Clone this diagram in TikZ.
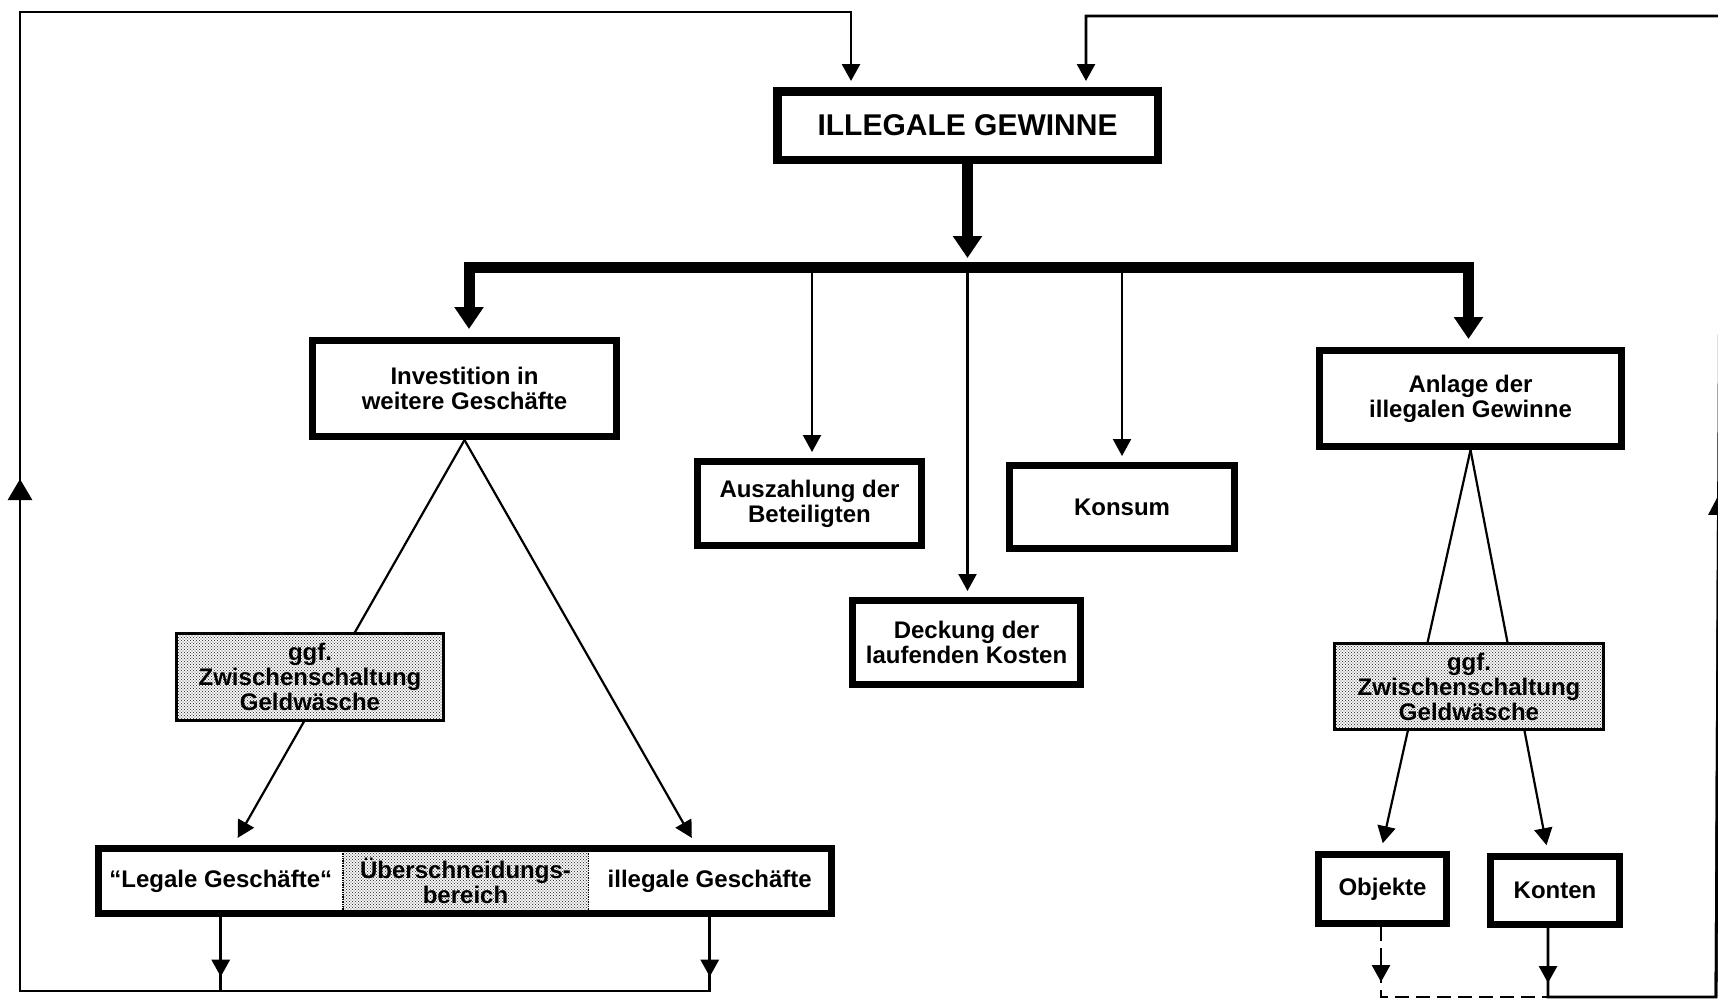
\documentclass[tikz,border=0pt]{standalone}
\usepackage{fontspec}
\setmainfont{Liberation Sans}
\usetikzlibrary{arrows.meta,patterns,calc}
\pgfdeclarelayer{bg}
\pgfsetlayers{bg,main}

% fine halftone stipple for the optional laundering step
\pgfdeclarepatternformonly{stipple}{\pgfpoint{-1pt}{-1pt}}{\pgfpoint{4pt}{4pt}}{\pgfpoint{3pt}{3pt}}{%
  \pgfpathcircle{\pgfpoint{0pt}{0pt}}{0.62pt}%
  \pgfpathcircle{\pgfpoint{1.5pt}{1.5pt}}{0.62pt}%
  \pgfusepath{fill}}

\newcommand\boxfont{\bfseries\fontsize{24}{25}\selectfont}
\newcommand\headfont{\bfseries\fontsize{30}{32}\selectfont}

\tikzset{
  >={Triangle[length=17pt,width=18pt]},
  box/.style={draw, line width=7pt, fill=white, inner sep=0pt, align=center, font=\boxfont},
  shadebox/.style={draw, line width=3pt, preaction={fill=white}, pattern=stipple,
    pattern color=black!75, inner sep=0pt, align=center, font=\boxfont},
  cell/.style={inner sep=0pt, minimum height=65pt, align=center, font=\boxfont},
  conn/.style={line width=2.2pt},
  loopl/.style={line width=2.8pt, line join=miter},
  heavy/.style={line width=11pt, line join=miter},
  bigarr/.style={-{Triangle[length=22pt,width=28pt]}},
}

\begin{document}
\begin{tikzpicture}[x=1pt,y=-1pt]
\useasboundingbox (0,0) rectangle (1718,1002);
\begin{pgfonlayer}{bg}
  \fill[white] (0,0) rectangle (1718,1002);
\end{pgfonlayer}

% boxes
\node[box, line width=8.5pt, minimum width=380.5pt, minimum height=68.5pt, font=\headfont]
  (title) at (967.5,125.5) {ILLEGALE GEWINNE};
\node[box, minimum width=304pt, minimum height=96pt] (invest) at (464.5,388.5)
  {Investition in\\weitere Geschäfte};
\node[box, minimum width=224pt, minimum height=84pt] (ausz) at (809.5,503.5)
  {Auszahlung der\\Beteiligten};
\node[box, minimum width=225pt, minimum height=83pt] (konsum) at (1122,507) {Konsum};
\node[box, minimum width=228pt, minimum height=84pt] (deckung) at (966.5,642.5)
  {Deckung der\\laufenden Kosten};
\node[box, minimum width=302pt, minimum height=96pt] (anlage) at (1470.5,398.5)
  {Anlage der\\illegalen Gewinne};
\node[shadebox, minimum width=267pt, minimum height=87pt] (ggfL) at (310,677)
  {ggf.\\Zwischenschaltung\\Geldwäsche};
\node[shadebox, minimum width=269pt, minimum height=86pt] (ggfR) at (1469,686.5)
  {ggf.\\Zwischenschaltung\\Geldwäsche};
\node[box, minimum width=128pt, minimum height=69pt] (objekte) at (1382.5,889) {Objekte};
\node[box, minimum width=129pt, minimum height=68pt] (konten) at (1555,890.5) {Konten};

% the three-part business box
\node[cell, minimum width=244.5pt] (legal) at (220.75,881) {“Legale Geschäfte“};
\node[cell, minimum width=245pt, preaction={fill=white}, pattern=stipple, pattern color=black!75]
  (over) at (465.5,881) {Überschneidungs-\\bereich};
\node[cell, minimum width=243.5pt] (illegal) at (709.75,881) {illegale Geschäfte};
\draw[line width=7pt] (legal.north west) rectangle (illegal.south east);
\draw[line width=1.4pt, densely dotted] (over.north west) -- (over.south west)
  (over.north east) -- (over.south east);

% junction points
\coordinate (hub)  at (967.5,258);
\coordinate (barL) at (469,267);
\coordinate (barR) at (1468.5,267);
\coordinate (dA)   at (812,267);
\coordinate (dD)   at (967.5,267);
\coordinate (dK)   at (1122,267);
\coordinate (lb)   at (20,991);
\coordinate (lt)   at (20,12);
\coordinate (la)   at (851,12);
\coordinate (lu)   at (20,479);
\coordinate (rb)   at (1716,997);
\coordinate (rt)   at (1721,16);
\coordinate (ra)   at (1086,16);
\coordinate (ru)   at (1718.5,495);
\coordinate (kx)   at (1548,997);
\coordinate (ox)   at (1381,997);

\begin{pgfonlayer}{bg}
  % main distribution of the profits
  \draw[heavy, bigarr] (title.south) -- (hub);
  \draw[heavy, {Triangle[length=22pt,width=28pt]}-{Triangle[length=22pt,width=28pt]},
        shorten <=8pt, shorten >=8pt]
    (barL |- invest.north) -- (barL) -- (barR) -- (barR |- anlage.north);
  \draw[conn, ->, shorten >=6pt] (dA) -- (dA |- ausz.north);
  \draw[conn, ->, shorten >=6pt] (dD) -- (dD |- deckung.north);
  \draw[conn, ->, shorten >=6pt] (dK) -- (dK |- konsum.north);

  % investment branch
  \draw[conn, ->, shorten >=12pt] (invest.south) -- ($(legal.north)+(11,0)$);
  \draw[conn, ->, shorten >=12pt] (invest.south) -- ($(illegal.north)+(-12,0)$);

  % placement branch
  \draw[conn, ->, shorten >=8pt] (anlage.south) -- ($(objekte.north)+(-1.5,0)$);
  \draw[conn, ->, shorten >=8pt] (anlage.south) -- ($(konten.north)+(-7,0)$);

  % left feedback loop
  \draw[loopl, ->, shorten >=6pt] (illegal.south) -- (illegal.south |- lb) -- (lb) -- (lt)
    -- (la) -- (la |- title.north);
  \draw[loopl] (legal.south) -- (legal.south |- lb);
  \draw[loopl, ->] (legal.south) -- ($(legal.south)+(0,63)$);
  \draw[loopl, ->] (illegal.south) -- ($(illegal.south)+(0,63)$);
  \draw[loopl, -{Triangle[length=21pt,width=24pt]}] (lb) -- (lu);

  % right feedback loop
  \draw[loopl, ->, shorten >=6pt] (kx |- konten.south) -- (kx) -- (rb) -- (rt)
    -- (ra) -- (ra |- title.north);
  \draw[loopl, ->] (kx |- konten.south) -- ($(kx)+(0,-14)$);
  \draw[loopl, dash pattern=on 14pt off 7pt] (ox |- objekte.south) -- (ox) -- (kx);
  \draw[loopl, ->] ($(ox)+(0,-45)$) -- ($(ox)+(0,-15)$);
  \draw[loopl, -{Triangle[length=20pt,width=20pt]}] (rb) -- (ru);
\end{pgfonlayer}
\end{tikzpicture}
\end{document}
